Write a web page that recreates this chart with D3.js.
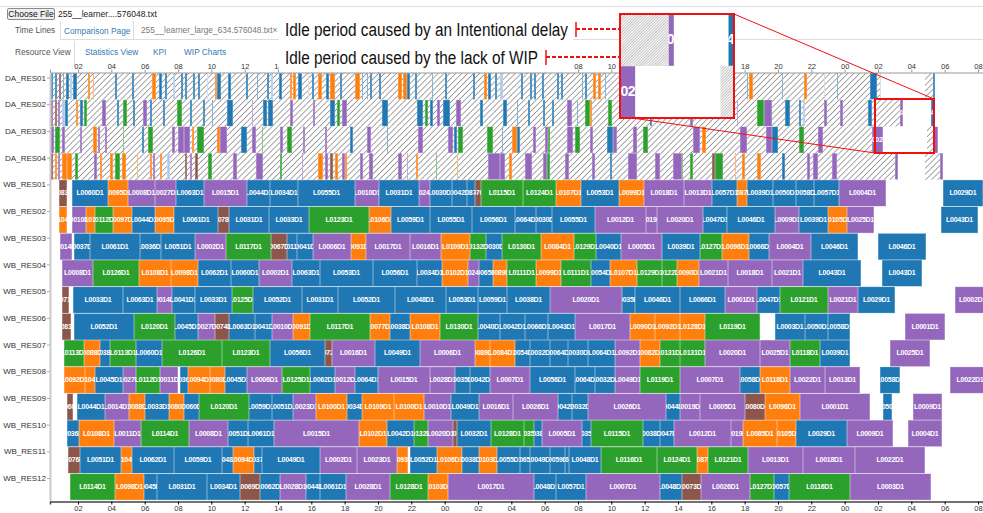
<!DOCTYPE html>
<html>
<head>
<meta charset="utf-8">
<script src="https://cdn.jsdelivr.net/npm/d3@7"></script>
<style>
  body { margin: 0; background: #fff; font-family: "Liberation Sans", Arial, sans-serif; }
  svg { display: block; }
  .axis text { font-family: "Liberation Sans", Arial, sans-serif; fill: #333; }
</style>
</head>
<body>
<div id="chart"></div>
<script>
// resources (rows) top to bottom
var resources = ["DA_RES01", "DA_RES02", "DA_RES03", "DA_RES04",
    "WB_RES01", "WB_RES02", "WB_RES03", "WB_RES04", "WB_RES05", "WB_RES06",
    "WB_RES07", "WB_RES08", "WB_RES09", "WB_RES10", "WB_RES11", "WB_RES12"];

var colorOf = {B: "#1f77b4", O: "#ff7f0e", G: "#2ca02c", R: "#8c564b", P: "#9467bd", L: "#aec7e8"};

// hours from day 1 00:00 ; [start, end] idle periods caused by an intentional delay (hatched)
var idleDA01 = [[0.32, 50.18], [52.82, 53.30]];
var idleDA02 = [[0.32, 51.32]];
var idleDA03 = [[0.32, 49.64], [52.94, 53.36]];
var idleDA04 = [[0.32, 51.02], [52.82, 53.72]];

// jobs: [start, end, colour, lot]
var jobsDA01 = [[0.38,0.50,"B"],[0.62,0.74,"B"],[0.86,0.98,"R"],[1.10,1.16,"B"],[1.28,1.46,"B"],[1.52,1.64,"L"],[1.70,1.94,"B"],
    [2.60,2.72,"O"],[2.90,2.96,"O"],[4.22,4.34,"B"],[5.24,5.36,"B"],[6.44,6.68,"O"],[6.86,7.04,"B"],[7.22,7.34,"B"],[7.70,7.82,"L"],
    [8.18,8.30,"B"],[8.42,8.54,"B"],[8.90,9.02,"B"],[9.20,9.32,"B"],[9.74,9.80,"L"],[10.22,10.34,"O"],[10.34,10.58,"B"],[11.00,11.18,"B"],
    [12.08,12.20,"B"],[12.74,12.80,"B"],[13.34,13.46,"B"],[13.58,13.70,"L"],[14.06,14.24,"B"],[14.72,14.84,"O"],[14.90,15.08,"O"],
    [15.20,15.44,"B"],[15.80,15.86,"L"],[16.04,16.16,"B"],[16.40,16.64,"O"],[16.88,17.06,"B"],[17.12,17.42,"O"],[17.72,17.84,"B"],
    [18.62,18.92,"O"],[19.04,19.10,"B"],[19.34,19.40,"B"],[19.52,19.64,"B"],[20.06,20.18,"B"],[21.20,21.44,"O"],[21.50,21.74,"O"],
    [21.74,21.92,"B"],[22.22,22.34,"B"],[23.24,23.30,"B"],[24.02,24.14,"B"],[25.70,25.82,"B"],[26.36,26.54,"O"],[26.60,26.78,"B"],
    [27.02,27.14,"B"],[27.32,27.50,"L"],[28.58,28.70,"B"],[29.12,29.24,"B"],[29.36,29.48,"B"],[29.84,29.96,"B"],[30.74,30.86,"B"],
    [30.98,31.10,"B"],[32.24,32.30,"B"],[32.42,32.54,"B"],[32.90,33.08,"O"],[33.20,33.38,"O"],[33.62,33.68,"B"],[35.72,35.84,"B"],
    [37.52,37.64,"O"],[39.32,39.44,"B"],[42.14,42.20,"B"],[42.26,42.50,"O"],[44.24,44.30,"B"],[45.56,45.74,"O"],[46.76,46.82,"L"],
    [47.54,47.60,"B"],[49.52,49.94,"B"],[50.12,50.18,"L"],[53.30,53.42,"B"]];
var jobsDA02 = [[0.32,0.50,"P"],[0.62,0.74,"R"],[0.80,0.92,"P"],[1.04,1.22,"L"],[1.22,1.40,"B"],[1.88,2.00,"O"],[2.12,2.30,"B"],
    [2.36,2.54,"G"],[3.44,3.68,"P"],[4.34,4.46,"B"],[4.70,4.94,"G"],[5.30,5.42,"B"],[5.90,6.14,"P"],[6.32,6.44,"B"],[7.10,7.22,"B"],
    [7.94,8.24,"G"],[8.72,8.84,"B"],[9.50,9.62,"B"],[10.04,10.10,"B"],[10.94,11.30,"B"],[12.44,12.50,"P"],[13.10,13.34,"B"],
    [13.40,13.70,"B"],[14.72,14.90,"P"],[16.10,16.22,"P"],[17.12,17.42,"B"],[17.54,17.72,"G"],[17.84,18.14,"P"],[20.24,20.60,"B"],
    [22.34,22.70,"B"],[22.82,23.00,"G"],[23.12,23.30,"B"],[23.54,23.72,"P"],[23.90,24.32,"B"],[24.68,24.98,"P"],[26.12,26.30,"B"],
    [27.50,27.74,"B"],[28.34,28.40,"B"],[29.00,29.12,"B"],[29.90,30.02,"B"],[30.44,30.56,"B"],[31.34,31.64,"P"],[31.94,32.00,"B"],
    [32.42,32.72,"G"],[32.72,32.84,"O"],[33.80,34.04,"G"],[36.32,36.44,"B"],[38.72,38.90,"P"],[41.54,41.60,"P"],[42.74,43.16,"G"],
    [43.16,43.64,"P"],[44.42,44.72,"B"],[45.26,45.38,"B"],[45.50,45.62,"L"],[46.76,46.94,"P"],[47.72,47.90,"P"],[49.40,49.64,"B"],
    [51.32,51.50,"P","L0009D1"],[53.18,53.36,"B","L0043D1"]];
var jobsDA03 = [[0.32,0.56,"P"],[0.62,0.92,"G"],[1.04,1.22,"P"],[2.12,2.24,"P"],[2.90,3.14,"O"],[3.20,3.32,"P"],[3.62,3.74,"P"],
    [4.70,4.76,"G"],[5.84,5.96,"B"],[6.20,6.50,"G"],[7.64,7.82,"P"],[8.00,8.36,"P"],[8.36,8.72,"P"],[8.84,8.96,"O"],[9.14,9.56,"G"],
    [10.34,10.52,"O"],[10.52,10.94,"P"],[11.78,12.14,"B"],[12.44,12.68,"P"],[13.04,13.10,"G"],[14.12,14.30,"P"],[14.54,14.84,"G"],
    [15.50,15.62,"P"],[16.82,16.94,"P"],[18.32,18.50,"B"],[19.34,19.58,"P"],[20.54,20.60,"B"],[22.40,22.70,"P"],[24.20,24.50,"P"],
    [24.56,24.74,"B"],[24.80,25.10,"G"],[26.54,26.90,"G"],[27.44,27.50,"B"],[28.04,28.34,"O"],[28.34,28.52,"B"],[29.30,29.48,"P"],
    [30.02,30.20,"P"],[30.20,30.32,"G"],[31.34,31.70,"P"],[31.82,32.12,"G"],[32.72,32.90,"P"],[33.74,34.10,"B"],[34.10,34.34,"P"],
    [35.30,35.54,"P"],[35.90,36.20,"G"],[38.90,39.32,"P"],[39.44,39.68,"O"],[41.72,42.14,"P"],[43.28,43.64,"P"],[43.64,44.00,"B"],
    [45.26,45.56,"G"],[46.40,46.70,"P"],[49.64,50.30,"P","L0002D1"],[53.36,53.60,"P"]];
var jobsDA04 = [[0.32,0.50,"R"],[0.62,0.74,"O"],[0.80,0.92,"P"],[1.04,1.34,"O"],[1.34,1.64,"O"],[1.82,2.00,"G"],[2.96,3.14,"P"],
    [3.32,3.44,"O"],[3.92,4.10,"O"],[4.22,4.52,"G"],[4.64,4.88,"O"],[5.54,5.60,"O"],[6.32,6.44,"O"],[6.50,6.62,"P"],[6.92,7.04,"O"],
    [7.34,7.52,"L"],[8.42,8.54,"R"],[8.72,8.84,"P"],[9.02,9.20,"R"],[9.80,10.04,"G"],[11.30,11.54,"P"],[12.68,13.10,"P"],
    [14.12,14.24,"G"],[15.44,15.50,"P"],[16.40,16.70,"O"],[16.82,17.00,"P"],[17.12,17.30,"R"],[17.42,17.60,"O"],[17.84,18.02,"P"],
    [18.02,18.14,"O"],[18.92,19.10,"P"],[19.46,19.70,"P"],[21.20,21.44,"P"],[21.74,21.80,"P"],[22.28,22.40,"O"],[23.48,23.54,"G"],
    [24.74,24.80,"O"],[26.60,27.32,"P"],[27.32,27.62,"P"],[27.86,28.04,"O"],[28.82,29.24,"P"],[29.90,30.14,"P"],[30.14,30.32,"G"],
    [31.22,31.46,"P"],[32.84,33.02,"P"],[33.92,34.04,"B"],[35.00,35.54,"P"],[36.62,36.92,"P"],[37.70,38.24,"P"],[38.24,38.30,"G"],
    [38.72,38.90,"G"],[40.04,40.22,"R"],[40.22,40.70,"G"],[41.42,41.48,"O"],[41.84,42.02,"O"],[42.74,42.98,"O"],[44.24,44.42,"B"],
    [45.74,45.92,"P"],[46.10,46.40,"P"],[47.24,47.54,"P"],[51.02,51.20,"P"],[53.72,53.90,"P"]];

var jobsWB01 = [[0.86,1.34,"R","L0083D1"],[1.64,3.80,"B","L0060D1"],[3.80,5.00,"O","L0095D1"],[5.00,6.62,"P","L0008D1"],
    [6.62,7.88,"P","L0027D1"],[7.88,9.56,"B","L0063D1"],[9.56,12.14,"P","L0015D1"],[12.14,13.52,"B","L0044D1"],
    [13.52,15.20,"B","L0034D1"],[15.20,18.62,"B","L0055D1"],[18.62,20.06,"P","L0010D1"],[20.06,22.46,"B","L0031D1"],
    [22.46,23.12,"P","L0024D1"],[23.12,24.44,"B","L0030D1"],[24.44,25.34,"B","L0042D1"],[25.34,25.82,"B","L0087D1"],
    [25.82,26.18,"R","L0070D1"],[26.18,28.70,"G","L0115D1"],[28.70,30.68,"G","L0124D1"],[30.68,32.18,"O","L0107D1"],
    [32.18,34.46,"B","L0053D1"],[34.46,35.96,"O","L0099D1"],[35.96,38.36,"P","L0018D1"],[38.36,40.04,"P","L0013D1"],
    [40.04,41.54,"B","L0057D1"],[41.54,42.14,"O","L0087D1"],[42.14,43.70,"B","L0039D1"],[43.70,45.08,"B","L0050D1"],
    [45.08,46.16,"B","L0058D1"],[46.16,47.66,"B","L0057D1"],[47.66,50.48,"P","L0004D1"],[53.90,56.30,"B","L0029D1"]];
var jobsWB02 = [[0.86,1.34,"O","L0104D1"],[1.64,2.48,"P","L0010D1"],[2.48,3.02,"O","L0101D1"],[3.02,4.10,"G","L0112D1"],
    [4.10,5.24,"O","L0097D1"],[5.24,6.62,"B","L0044D1"],[6.62,7.76,"O","L0095D1"],[7.76,10.40,"B","L0061D1"],
    [10.40,11.06,"R","L0078D1"],[11.06,13.46,"B","L0031D1"],[13.46,15.86,"B","L0033D1"],[15.86,19.46,"G","L0123D1"],
    [19.46,20.78,"O","L0106D1"],[20.78,23.12,"B","L0059D1"],[23.12,25.64,"B","L0055D1"],[25.64,28.22,"B","L0056D1"],
    [28.22,29.48,"B","L0064D1"],[29.48,30.44,"B","L0030D1"],[30.44,33.02,"B","L0055D1"],[33.02,36.08,"P","L0012D1"],
    [36.08,36.74,"P","L0019D1"],[36.74,39.50,"P","L0020D1"],[39.50,40.94,"B","L0047D1"],[40.94,43.82,"B","L0046D1"],
    [43.82,45.26,"P","L0009D1"],[45.26,47.00,"B","L0039D1"],[47.00,48.14,"O","L0105D1"],[48.14,49.76,"P","L0025D1"],
    [53.78,56.00,"B","L0043D1"]];
var jobsWB03 = [[0.92,1.64,"P","L0014D1"],[1.76,2.72,"B","L0037D1"],[2.72,5.72,"B","L0061D1"],[5.72,6.98,"B","L0036D1"],
    [6.98,9.02,"B","L0051D1"],[9.02,10.88,"P","L0002D1"],[10.88,13.58,"G","L0117D1"],[13.58,14.54,"R","L0067D1"],
    [14.54,15.14,"B","L0011D1"],[15.14,16.10,"B","L0041D1"],[16.10,18.38,"P","L0006D1"],[18.38,19.28,"O","L0091D1"],
    [19.28,21.92,"P","L0017D1"],[21.92,23.78,"P","L0016D1"],[23.78,25.52,"O","L0109D1"],[25.52,26.48,"G","L0132D1"],
    [26.48,27.44,"B","L0030D1"],[27.44,29.78,"G","L0130D1"],[29.78,31.76,"O","L0084D1"],[31.76,33.08,"G","L0129D1"],
    [33.08,34.58,"B","L0040D1"],[34.58,37.04,"P","L0005D1"],[37.04,39.32,"B","L0039D1"],[39.32,40.64,"G","L0127D1"],
    [40.64,42.26,"O","L0096D1"],[42.26,43.46,"B","L0066D1"],[43.46,45.98,"P","L0004D1"],[45.98,48.80,"B","L0046D1"],
    [50.00,52.88,"B","L0046D1"]];
var jobsWB04 = [[1.04,2.90,"P","L0008D1"],[2.90,5.66,"G","L0126D1"],[5.66,7.58,"O","L0108D1"],[7.58,9.20,"O","L0098D1"],
    [9.20,11.18,"B","L0062D1"],[11.18,12.86,"B","L0060D1"],[12.86,14.84,"P","L0002D1"],[14.84,16.52,"B","L0063D1"],
    [16.52,19.70,"B","L0053D1"],[19.70,22.34,"B","L0056D1"],[22.34,23.84,"B","L0034D1"],[23.84,25.40,"O","L0102D1"],
    [25.40,26.06,"P","L0024D1"],[26.06,26.90,"B","L0065D1"],[26.90,27.74,"O","L0089D1"],[27.74,29.48,"G","L0111D1"],
    [29.48,30.98,"O","L0099D1"],[30.98,32.78,"G","L0111D1"],[32.78,33.92,"B","L0054D1"],[33.92,35.54,"O","L0107D1"],
    [35.54,37.04,"G","L0129D1"],[37.04,37.94,"G","L0122D1"],[37.94,39.26,"O","L0090D1"],[39.26,41.00,"P","L0021D1"],
    [41.00,43.64,"P","L0018D1"],[43.64,45.50,"P","L0021D1"],[45.50,48.98,"B","L0043D1"],[50.24,52.64,"B","L0043D1"]];
var jobsWB05 = [[1.04,1.46,"R","L0071D1"],[1.70,4.70,"B","L0033D1"],[4.70,6.74,"B","L0063D1"],[6.74,7.64,"P","L0014D1"],
    [7.64,9.02,"B","L0041D1"],[9.02,11.24,"B","L0033D1"],[11.24,12.50,"G","L0125D1"],[12.50,15.44,"B","L0052D1"],
    [15.44,17.60,"B","L0031D1"],[17.60,21.02,"B","L0052D1"],[21.02,24.08,"B","L0048D1"],[24.08,26.00,"B","L0053D1"],
    [26.00,27.74,"B","L0059D1"],[27.74,30.32,"B","L0038D1"],[30.32,34.64,"P","L0020D1"],[34.64,35.42,"B","L0035D1"],
    [35.42,38.12,"B","L0046D1"],[38.12,40.82,"B","L0066D1"],[40.82,42.74,"P","L0001D1"],[42.74,44.12,"B","L0047D1"],
    [44.12,47.00,"G","L0121D1"],[47.00,48.80,"P","L0021D1"],[48.80,51.02,"B","L0029D1"],[54.62,56.72,"P","L0002D1"]];
var jobsWB06 = [[1.04,1.58,"R","L0081D1"],[1.76,5.36,"B","L0052D1"],[5.36,7.82,"G","L0120D1"],[7.82,9.20,"B","L0045D1"],
    [9.20,10.22,"P","L0027D1"],[10.22,11.06,"R","L0074D1"],[11.06,12.62,"B","L0063D1"],[12.62,13.64,"B","L0041D1"],
    [13.64,14.90,"P","L0010D1"],[14.90,15.92,"O","L0091D1"],[15.92,19.52,"G","L0117D1"],[19.52,20.72,"O","L0077D1"],
    [20.72,21.92,"B","L0038D1"],[21.92,23.72,"O","L0108D1"],[23.72,26.00,"G","L0130D1"],[26.00,27.32,"B","L0040D1"],
    [27.32,28.82,"B","L0042D1"],[28.82,30.20,"B","L0066D1"],[30.20,31.82,"B","L0043D1"],[31.82,35.12,"P","L0017D1"],
    [35.12,36.62,"O","L0090D1"],[36.62,38.12,"O","L0092D1"],[38.12,39.62,"O","L0128D1"],[39.62,42.92,"G","L0119D1"],
    [43.82,45.62,"B","L0003D1"],[45.62,47.00,"B","L0050D1"],[47.00,48.32,"B","L0058D1"],[51.62,54.02,"P","L0001D1"]];
var jobsWB07 = [[1.16,2.36,"G","L0113D1"],[2.36,3.32,"O","L0088D1"],[3.32,3.92,"B","L0038D1"],[3.92,5.48,"G","L0113D1"],
    [5.48,7.04,"B","L0060D1"],[7.04,10.64,"G","L0126D1"],[10.64,13.52,"G","L0123D1"],[13.52,16.82,"B","L0056D1"],
    [16.82,17.24,"R","L0072D1"],[17.24,19.82,"P","L0016D1"],[19.82,22.52,"B","L0049D1"],[22.52,25.82,"P","L0006D1"],
    [25.82,26.72,"O","L0089D1"],[26.72,28.22,"O","L0084D1"],[28.22,29.12,"B","L0054D1"],[29.12,30.32,"B","L0032D1"],
    [30.32,31.40,"B","L0064D1"],[31.40,32.60,"B","L0030D1"],[32.60,34.22,"B","L0064D1"],[34.22,35.72,"P","L0092D1"],
    [35.72,36.92,"O","L0082D1"],[36.92,38.12,"G","L0131D1"],[38.12,39.62,"G","L0131D1"],[39.62,42.92,"P","L0020D1"],
    [42.92,44.72,"P","L0025D1"],[44.72,46.52,"G","L0118D1"],[46.52,48.32,"B","L0039D1"],[50.72,53.12,"P","L0025D1"]];
var jobsWB08 = [[1.16,2.42,"O","L0092D1"],[2.42,3.02,"O","L0104D1"],[3.02,4.70,"B","L0045D1"],[4.70,5.48,"P","L0027D1"],
    [5.48,6.92,"G","L0112D1"],[6.92,8.00,"P","L0011D1"],[8.12,8.60,"B","L0036D1"],[8.60,9.92,"O","L0094D1"],
    [9.92,10.82,"O","L0080D1"],[10.82,12.14,"B","L0045D1"],[12.14,14.24,"P","L0006D1"],[14.24,15.92,"G","L0125D1"],
    [15.92,17.42,"B","L0062D1"],[17.42,18.62,"P","L0012D1"],[18.62,20.00,"B","L0064D1"],[20.00,23.12,"P","L0015D1"],
    [23.12,24.62,"P","L0028D1"],[24.62,25.52,"B","L0035D1"],[25.52,26.72,"B","L0042D1"],[26.72,29.12,"P","L0007D1"],
    [29.12,31.82,"B","L0056D1"],[31.82,33.02,"B","L0064D1"],[33.02,34.22,"B","L0032D1"],[34.22,35.72,"P","L0049D1"],
    [35.72,38.12,"G","L0119D1"],[38.12,41.72,"P","L0007D1"],[41.72,42.92,"B","L0058D1"],[42.92,44.72,"O","L0118D1"],
    [44.72,46.82,"P","L0022D1"],[46.82,48.92,"P","L0013D1"],[50.12,51.32,"B","L0058D1"],[54.32,56.72,"P","L0022D1"]];
var jobsWB09 = [[1.34,1.70,"R","L0060D1"],[1.94,3.62,"B","L0044D1"],[3.62,5.06,"P","L0014D1"],[5.06,6.02,"O","L0088D1"],
    [6.02,7.46,"B","L0033D1"],[7.46,8.36,"O","L0080D1"],[8.36,9.26,"B","L0060D1"],[9.26,12.26,"G","L0120D1"],
    [12.26,13.64,"B","L0059D1"],[13.64,14.90,"B","L0051D1"],[14.90,16.28,"P","L0023D1"],[16.28,18.14,"O","L0100D1"],
    [18.14,19.04,"B","L0034D1"],[19.04,20.96,"O","L0109D1"],[20.96,22.76,"O","L0100D1"],[22.76,24.38,"P","L0010D1"],
    [24.38,26.06,"B","L0049D1"],[26.06,28.10,"P","L0016D1"],[28.10,30.80,"P","L0026D1"],[30.80,31.64,"B","L0042D1"],
    [31.64,32.60,"B","L0032D1"],[32.60,37.28,"P","L0026D1"],[37.28,38.12,"B","L0044D1"],[38.12,39.32,"P","L0019D1"],
    [39.32,42.02,"P","L0005D1"],[42.02,43.22,"R","L0080D1"],[43.22,45.32,"O","L0096D1"],[45.32,49.52,"P","L0001D1"],
    [50.30,50.84,"B","L0050D1"],[52.10,53.84,"P","L0009D1"]];
var jobsWB10 = [[1.34,2.06,"B","L0036D1"],[2.06,4.16,"O","L0108D1"],[4.16,5.78,"P","L0011D1"],[5.78,8.66,"G","L0114D1"],
    [8.66,11.00,"P","L0008D1"],[11.00,12.20,"B","L0051D1"],[12.20,13.76,"B","L0061D1"],[13.76,18.86,"P","L0015D1"],
    [18.86,20.54,"O","L0102D1"],[20.54,22.16,"B","L0042D1"],[22.16,23.00,"G","L0132D1"],[23.00,24.50,"P","L0020D1"],
    [24.50,24.74,"R","L0007D1"],[24.74,26.78,"B","L0032D1"],[26.78,28.76,"G","L0128D1"],[28.76,29.36,"G","L0035D1"],
    [29.36,29.84,"B","L0038D1"],[29.84,32.24,"P","L0005D1"],[32.24,32.78,"B","L0035D1"],[32.78,35.90,"G","L0115D1"],
    [35.90,36.92,"B","L0038D1"],[36.92,37.76,"B","L0047D1"],[37.76,41.18,"P","L0012D1"],[41.18,41.90,"P","L0019D1"],
    [41.90,43.94,"O","L0085D1"],[43.94,45.08,"O","L0105D1"],[45.08,48.14,"B","L0029D1"],[48.14,50.90,"P","L0009D1"],
    [51.80,53.84,"P","L0004D1"]];
var jobsWB11 = [[1.40,2.12,"R","L0076D1"],[2.12,4.58,"B","L0051D1"],[4.58,5.24,"O","L0104D1"],[5.24,7.76,"B","L0062D1"],
    [7.76,10.64,"B","L0059D1"],[10.64,11.30,"B","L0048D1"],[11.30,12.56,"O","L0094D1"],[12.56,13.04,"B","L0037D1"],
    [13.04,16.52,"B","L0049D1"],[16.52,18.74,"P","L0002D1"],[18.74,21.14,"P","L0023D1"],[21.14,21.80,"O","L0093D1"],
    [21.92,23.54,"B","L0052D1"],[23.54,25.04,"O","L0106D1"],[25.04,26.06,"B","L0038D1"],[26.06,27.14,"O","L0103D1"],
    [27.14,28.52,"B","L0055D1"],[28.52,29.12,"B","L0065D1"],[29.12,30.32,"B","L0049D1"],[30.32,31.22,"B","L0059D1"],
    [31.22,31.46,"B","L0066D1"],[31.46,33.38,"B","L0048D1"],[33.38,36.74,"G","L0116D1"],[36.74,39.14,"G","L0124D1"],
    [39.14,39.80,"O","L0087D1"],[39.80,42.20,"G","L0121D1"],[42.20,45.50,"P","L0013D1"],[45.50,48.62,"P","L0018D1"],
    [48.62,52.82,"P","L0022D1"]];
var jobsWB12 = [[1.52,4.22,"G","L0114D1"],[4.22,5.96,"O","L0098D1"],[5.96,6.74,"B","L0045D1"],[6.74,9.74,"B","L0031D1"],
    [9.74,11.72,"B","L0034D1"],[11.72,12.92,"R","L0069D1"],[12.92,14.12,"B","L0062D1"],[14.12,15.68,"P","L0028D1"],
    [15.68,16.52,"B","L0044D1"],[16.52,18.08,"B","L0061D1"],[18.08,20.72,"P","L0028D1"],[20.72,23.00,"G","L0128D1"],
    [23.00,24.20,"O","L0103D1"],[24.20,29.36,"P","L0017D1"],[29.36,30.68,"B","L0048D1"],[30.68,32.48,"B","L0057D1"],
    [32.48,36.92,"P","L0007D1"],[36.92,38.24,"B","L0048D1"],[38.24,39.38,"R","L0073D1"],[39.38,42.32,"P","L0026D1"],
    [42.32,43.76,"G","L0127D1"],[43.76,44.66,"B","L0057D1"],[44.66,48.32,"G","L0116D1"],[48.32,53.18,"P","L0003D1"]];

var rows = [
    {name: "DA_RES01", idle: idleDA01, jobs: jobsDA01}, {name: "DA_RES02", idle: idleDA02, jobs: jobsDA02},
    {name: "DA_RES03", idle: idleDA03, jobs: jobsDA03}, {name: "DA_RES04", idle: idleDA04, jobs: jobsDA04},
    {name: "WB_RES01", idle: [], jobs: jobsWB01}, {name: "WB_RES02", idle: [], jobs: jobsWB02},
    {name: "WB_RES03", idle: [], jobs: jobsWB03}, {name: "WB_RES04", idle: [], jobs: jobsWB04},
    {name: "WB_RES05", idle: [], jobs: jobsWB05}, {name: "WB_RES06", idle: [], jobs: jobsWB06},
    {name: "WB_RES07", idle: [], jobs: jobsWB07}, {name: "WB_RES08", idle: [], jobs: jobsWB08},
    {name: "WB_RES09", idle: [], jobs: jobsWB09}, {name: "WB_RES10", idle: [], jobs: jobsWB10},
    {name: "WB_RES11", idle: [], jobs: jobsWB11}, {name: "WB_RES12", idle: [], jobs: jobsWB12}
];

var width = 983, height = 513;
var base = new Date(2021, 0, 1);
function at(h) { return new Date(base.getTime() + h * 3600000); }

var svg = d3.select("#chart").append("svg").attr("width", width).attr("height", height);
var defs = svg.append("defs");

function hatch(id, gap, col, sw) {
    var p = defs.append("pattern").attr("id", id).attr("patternUnits", "userSpaceOnUse")
        .attr("width", gap).attr("height", gap).attr("patternTransform", "rotate(45)");
    p.append("rect").attr("width", gap).attr("height", gap).attr("fill", "#fff");
    p.append("line").attr("x1", 0).attr("y1", 0).attr("x2", 0).attr("y2", gap)
        .attr("stroke", col).attr("stroke-width", sw);
}
hatch("hatch", 4.2, "#4a4a4a", 1);
hatch("hatchFine", 2, "#666", 0.8);

// ---- page header (file input + tabs)
var head = svg.append("g").style("font-family", "'Liberation Sans', Arial, sans-serif");
head.append("line").attr("x1", 0).attr("x2", width).attr("y1", 6.5).attr("y2", 6.5).attr("stroke", "#ddd");
head.append("rect").attr("x", 7.5).attr("y", 8.5).attr("width", 47).attr("height", 11).attr("rx", 1.5)
    .attr("fill", "#efefef").attr("stroke", "#8a8a8a");
head.append("text").attr("x", 31).attr("y", 17).attr("text-anchor", "middle").attr("font-size", 8.5).attr("fill", "#111").text("Choose File");
head.append("text").attr("x", 58).attr("y", 17).attr("font-size", 8.5).attr("fill", "#222").text("255__learner....576048.txt");
head.append("line").attr("x1", 60).attr("x2", width).attr("y1", 39.5).attr("y2", 39.5).attr("stroke", "#ddd");
head.append("line").attr("x1", 60.5).attr("x2", 60.5).attr("y1", 21).attr("y2", 40).attr("stroke", "#ddd");
head.append("line").attr("x1", 133.5).attr("x2", 133.5).attr("y1", 21).attr("y2", 40).attr("stroke", "#ddd");
head.append("line").attr("x1", 74.5).attr("x2", 74.5).attr("y1", 41).attr("y2", 67).attr("stroke", "#ddd");
var tabs = [
    {t: "Time Lines", x: 15, y: 33, c: "#555"}, {t: "Comparison Page", x: 64, y: 34, c: "#337ab7"},
    {t: "255__learner_large_634.576048.txt\u00d7", x: 141, y: 33, c: "#777"},
    {t: "Resource View", x: 15, y: 54.5, c: "#555"}, {t: "Statistics View", x: 85, y: 54.5, c: "#337ab7"},
    {t: "KPI", x: 153, y: 54.5, c: "#337ab7"}, {t: "WIP Charts", x: 184, y: 54.5, c: "#337ab7"}
];
head.selectAll("text.tab").data(tabs).join("text").attr("class", "tab")
    .attr("x", function(d) { return d.x; }).attr("y", function(d) { return d.y; })
    .attr("font-size", 8.3).attr("fill", function(d) { return d.c; })
    .text(function(d) { return d.t; });

// ---- scales
var x = d3.scaleTime().domain([at(0.32), at(56.3)]).range([50, 983]);
var y = d3.scaleBand().domain(resources).range([73, 500.2]);

function drawRows(g, xs, ys, list, fontSize, pattern) {
    list.forEach(function(row) {
        var top = ys(row.name), bh = ys.bandwidth();
        g.append("g").selectAll("rect").data(row.idle).join("rect")
            .attr("x", function(d) { return xs(at(d[0])); })
            .attr("width", function(d) { return xs(at(d[1])) - xs(at(d[0])); })
            .attr("y", top).attr("height", bh)
            .attr("fill", "url(#" + pattern + ")");
        var job = g.append("g").selectAll("svg").data(row.jobs).join("svg")
            .attr("x", function(d) { return xs(at(d[0])); })
            .attr("y", top)
            .attr("width", function(d) { return Math.max(0.8, xs(at(d[1])) - xs(at(d[0]))); })
            .attr("height", bh)
            .attr("overflow", "hidden");
        job.append("rect").attr("width", "100%").attr("height", "100%")
            .attr("fill", function(d) { return colorOf[d[2]]; })
            .attr("stroke", "#fff").attr("stroke-opacity", 0.45).attr("stroke-width", 1);
        job.filter(function(d) { return d[3]; }).append("text")
            .attr("x", function(d) { return (xs(at(d[1])) - xs(at(d[0]))) / 2; })
            .attr("y", bh / 2 + fontSize * 0.3)
            .attr("text-anchor", "middle")
            .attr("font-size", fontSize).attr("font-weight", "bold")
            .attr("letter-spacing", -fontSize * 0.04)
            .attr("fill", "#fff")
            .text(function(d) { return d[3]; });
    });
}

var plot = svg.append("g").style("font-family", "'Liberation Sans', Arial, sans-serif");
drawRows(plot, x, y, rows, 7, "hatch");

// ---- axes
var fmt = d3.timeFormat("%H");
var topAxis = svg.append("g").attr("class", "axis").attr("transform", "translate(0,72.5)")
    .call(d3.axisTop(x).ticks(d3.timeHour.every(2)).tickFormat(fmt).tickSizeInner(3).tickSizeOuter(3).tickPadding(1));
topAxis.selectAll("text").attr("font-size", 7.5);
topAxis.select(".domain").attr("stroke", "#999");
topAxis.selectAll(".tick line").attr("stroke", "#999");

var bottomAxis = svg.append("g").attr("class", "axis").attr("transform", "translate(0,501.5)")
    .call(d3.axisBottom(x).ticks(d3.timeHour.every(2)).tickFormat(fmt).tickSizeInner(3).tickSizeOuter(3).tickPadding(1));
bottomAxis.selectAll("text").attr("font-size", 7.5);
bottomAxis.select(".domain").attr("stroke", "#444").attr("stroke-width", 1.5);

var leftAxis = svg.append("g").attr("class", "axis").attr("transform", "translate(50,-8.3)")
    .call(d3.axisLeft(y).tickSizeInner(3).tickSizeOuter(0).tickPadding(1));
leftAxis.selectAll("text").attr("font-size", 8);
leftAxis.select(".domain").attr("stroke", "#ccc").attr("stroke-width", 2).attr("transform", "translate(0,8.3)");
leftAxis.selectAll(".tick line").attr("stroke", "#aaa");

// ---- annotation
var red = "#f01010";
var note = svg.append("g");
note.append("rect").attr("x", 279).attr("y", 16).attr("width", 294).attr("height", 56).attr("fill", "#fff");
var notes = [
    {text: "Idle period caused by an Intentional delay", base: 36, len: 283, bar: 576, tip: [645, 29]},
    {text: "Idle period caused by the lack of WIP", base: 64, len: 253, bar: 546, tip: [697, 57]}
];
notes.forEach(function(n) {
    note.append("text").attr("x", 285).attr("y", n.base)
        .style("font-family", "'Liberation Sans Narrow', 'Liberation Sans', Arial, sans-serif")
        .attr("font-size", 18).attr("fill", "#111")
        .attr("textLength", n.len).attr("lengthAdjust", "spacingAndGlyphs")
        .text(n.text);
    note.append("line").attr("x1", n.bar).attr("x2", n.bar).attr("y1", n.tip[1] - 7).attr("y2", n.tip[1] + 8)
        .attr("stroke", red).attr("stroke-width", 1.5);
    note.append("line").attr("x1", n.bar).attr("x2", n.tip[0]).attr("y1", n.tip[1]).attr("y2", n.tip[1])
        .attr("stroke", red).attr("stroke-width", 2).attr("stroke-dasharray", "4,2");
    note.append("circle").attr("cx", n.tip[0]).attr("cy", n.tip[1]).attr("r", 3).attr("fill", red);
});

// ---- magnified inset of the idle periods at the end of DA_RES02 / DA_RES03
var src = {x0: 875, x1: 934, y0: 99, y1: 153};
var dst = {x0: 620, x1: 734, y0: 14, y1: 118};
var xi = d3.scaleTime().domain([x.invert(src.x0), x.invert(src.x1)]).range([dst.x0, dst.x1]);
var yi = d3.scaleBand().domain(["DA_RES02", "DA_RES03"]).range([dst.y0, dst.y1]);
defs.append("clipPath").attr("id", "insetClip").append("rect")
    .attr("x", dst.x0).attr("y", dst.y0).attr("width", dst.x1 - dst.x0).attr("height", dst.y1 - dst.y0);
var inset = svg.append("g").attr("clip-path", "url(#insetClip)").style("font-family", "'Liberation Sans', Arial, sans-serif");
inset.append("rect").attr("x", dst.x0).attr("y", dst.y0).attr("width", dst.x1 - dst.x0).attr("height", dst.y1 - dst.y0).attr("fill", "#fff");
drawRows(inset, xi, yi, rows.slice(1, 3), 14, "hatchFine");

svg.append("rect").attr("x", dst.x0).attr("y", dst.y0).attr("width", dst.x1 - dst.x0).attr("height", dst.y1 - dst.y0)
    .attr("fill", "none").attr("stroke", red).attr("stroke-width", 2);
svg.append("rect").attr("x", src.x0).attr("y", src.y0).attr("width", src.x1 - src.x0).attr("height", src.y1 - src.y0)
    .attr("fill", "none").attr("stroke", red).attr("stroke-width", 2);
svg.append("line").attr("x1", dst.x1).attr("y1", dst.y0).attr("x2", src.x1).attr("y2", src.y0)
    .attr("stroke", red).attr("stroke-width", 1);
svg.append("line").attr("x1", dst.x0 + 12).attr("y1", dst.y1).attr("x2", src.x0).attr("y2", src.y1)
    .attr("stroke", red).attr("stroke-width", 1);
</script>
</body>
</html>
